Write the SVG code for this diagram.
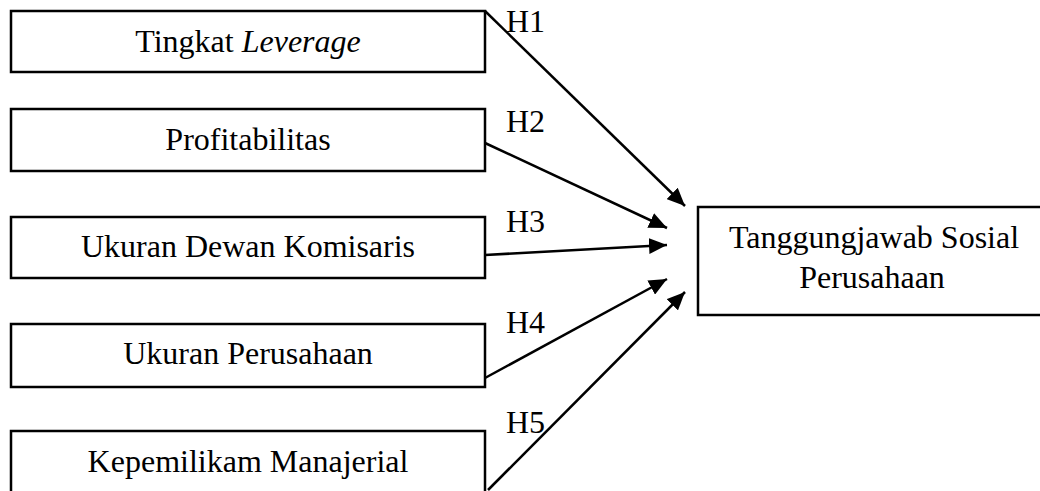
<svg xmlns="http://www.w3.org/2000/svg" width="1040" height="491" viewBox="0 0 1040 491">
<style>
rect.box{fill:#fff;stroke:#000;stroke-width:2.5}
text{font-family:"Liberation Serif","Times New Roman",serif;font-size:32px;fill:#000}
text.c{text-anchor:middle}
.conn line{stroke:#000;stroke-width:2.5;fill:none}
</style>
<defs>
<marker id="ah" markerUnits="userSpaceOnUse" markerWidth="20" markerHeight="16" refX="18" refY="8" orient="auto">
<path d="M0,0 L18,8 L0,16 z" fill="#000"/>
</marker>
</defs>
<g id="n1"><rect class="box" x="11" y="11" width="474" height="61"/><text class="c" x="248" y="52">Tingkat <tspan font-style="italic">Leverage</tspan></text></g>
<g id="n2"><rect class="box" x="11" y="109" width="474" height="62"/><text class="c" x="248" y="150">Profitabilitas</text></g>
<g id="n3"><rect class="box" x="11" y="217" width="474" height="61"/><text class="c" x="248" y="257">Ukuran Dewan Komisaris</text></g>
<g id="n4"><rect class="box" x="11" y="324" width="474" height="63"/><text class="c" x="248" y="364">Ukuran Perusahaan</text></g>
<g id="n5"><rect class="box" x="11" y="431" width="474" height="80"/><text class="c" x="248" y="472">Kepemilikam Manajerial</text></g>
<g id="n6"><rect class="box" x="698" y="207" width="360" height="108"/><text class="c" x="874" y="248">Tanggungjawab Sosial</text><text class="c" x="872" y="288">Perusahaan</text></g>
<g id="connectors" class="conn">
<line x1="485" y1="11" x2="685" y2="206" marker-end="url(#ah)"/>
<line x1="485" y1="143" x2="667" y2="228" marker-end="url(#ah)"/>
<line x1="485" y1="255" x2="667" y2="245" marker-end="url(#ah)"/>
<line x1="485" y1="378" x2="667" y2="279" marker-end="url(#ah)"/>
<line x1="488" y1="490" x2="685" y2="292" marker-end="url(#ah)"/>
<text x="506" y="32">H1</text>
<text x="506" y="132">H2</text>
<text x="506" y="232">H3</text>
<text x="506" y="333">H4</text>
<text x="506" y="433">H5</text>
</g>
</svg>
